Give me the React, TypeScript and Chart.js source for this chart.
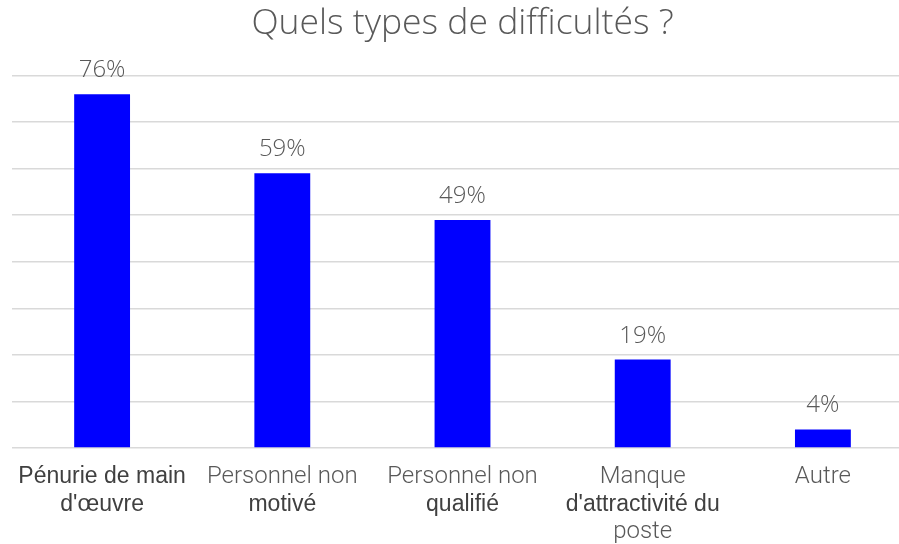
import React, { useEffect, useRef } from "react";
import { Chart, registerables } from "chart.js";

Chart.register(...registerables);

const titleText = "Quels types de difficultés ?";
const categories: string[][] = [
  ["Pénurie de main", "d'œuvre"],
  ["Personnel non", "motivé"],
  ["Personnel non", "qualifié"],
  ["Manque", "d'attractivité du", "poste"],
  ["Autre"],
];
const values = [0.76, 0.59, 0.49, 0.19, 0.04];
const yMax = 0.8;
const yStep = 0.1;
// which label lines are drawn in the darker style
const darkLines: boolean[][] = [
  [true, true],
  [false, true],
  [false, true],
  [false, true, false],
  [false],
];

const labelPlugin = {
  id: "customLabels",
  afterDatasetsDraw(chart: any) {
    const ctx = chart.ctx;
    const meta = chart.getDatasetMeta(0);
    const area = chart.chartArea;
    ctx.save();
    meta.data.forEach((bar: any, i: number) => {
      const v = values[i];
      ctx.font = '300 24px "Open Sans"';
      ctx.fillStyle = "#595959";
      ctx.textAlign = "center";
      ctx.textBaseline = "alphabetic";
      ctx.fillText(Math.round(v * 100) + "%", bar.x, bar.y - 17);
      const lines = categories[i];
      lines.forEach((line, j) => {
        const dark = darkLines[i] && darkLines[i][j];
        ctx.font = dark ? '400 23px "Liberation Sans"' : '300 24px Roboto';
        ctx.fillStyle = dark ? "#404040" : "#595959";
        ctx.textBaseline = "middle";
        ctx.fillText(line, bar.x, area.bottom + 29 + j * 27.5);
      });
    });
    ctx.restore();
  },
};

export default function App() {
  const ref = useRef<HTMLCanvasElement>(null);
  useEffect(() => {
    if (!ref.current) return;
    const chart = new Chart(ref.current, {
      type: "bar",
      data: {
        labels: categories.map((c) => c.join(" ")),
        datasets: [
          {
            data: values,
            backgroundColor: "#0000FF",
            borderWidth: 0,
            barPercentage: 1,
            categoryPercentage: 0.31,
          },
        ],
      },
      options: {
        responsive: false,
        devicePixelRatio: 1,
        animation: false,
        layout: { padding: { left: 12, right: 0, top: 0, bottom: 88 } },
        plugins: {
          legend: { display: false },
          tooltip: { enabled: false },
          title: {
            display: true,
            text: titleText,
            color: "#595959",
            font: { family: '"Open Sans"', size: 35.5, weight: "300", lineHeight: 1.2 },
            padding: { top: 3, bottom: 30 },
          },
        },
        scales: {
          x: {
            grid: { display: false },
            border: { display: false },
            ticks: { display: false },
          },
          y: {
            min: 0,
            max: yMax,
            ticks: { display: false, stepSize: yStep },
            grid: { color: "#d9d9d9", lineWidth: 1.5, drawTicks: false },
            border: { display: false },
          },
        },
      },
      plugins: [labelPlugin],
    });
    return () => chart.destroy();
  }, []);
  return (
    <div
      style={{
        position: "absolute",
        top: 0,
        left: 0,
        width: 899,
        height: 544,
        overflow: "hidden",
        background: "#fff",
      }}
    >
      <canvas ref={ref} width={913} height={544} />
    </div>
  );
}
